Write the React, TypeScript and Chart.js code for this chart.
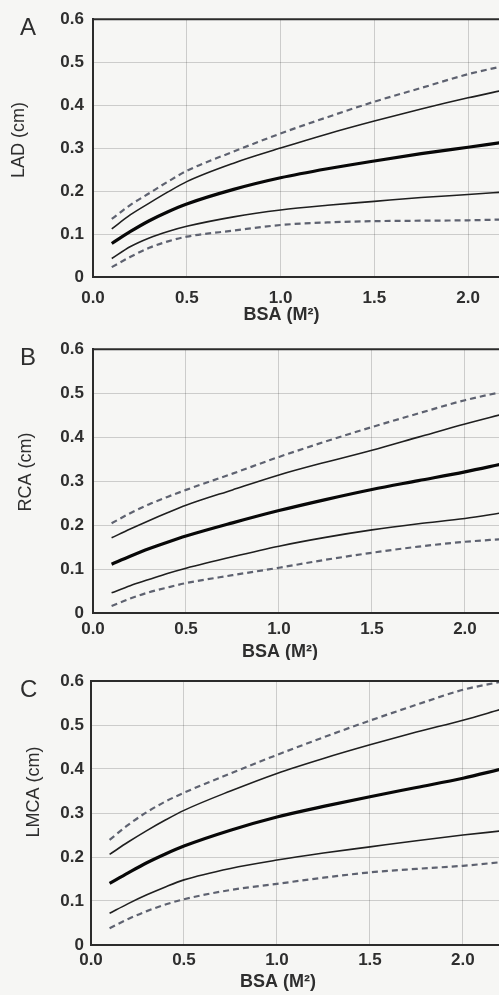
import { useEffect, useRef } from 'react';
import { Chart, registerables } from 'chart.js';

Chart.register(...registerables);

// ---------- data ----------
const bsa = [0.1, 0.2, 0.3, 0.4, 0.5, 0.75, 1.0, 1.25, 1.5, 1.75, 2.0, 2.2];
const xTicks = [0, 0.5, 1.0, 1.5, 2.0];
const yTicks = [0, 0.1, 0.2, 0.3, 0.4, 0.5, 0.6];
const xTitle = 'BSA (M²)';

// Panel A – LAD
const ladUpperDashed = [0.135, 0.168, 0.195, 0.222, 0.247, 0.292, 0.334, 0.372, 0.408, 0.44, 0.472, 0.492];
const ladUpper = [0.112, 0.145, 0.172, 0.198, 0.222, 0.265, 0.3, 0.333, 0.363, 0.391, 0.417, 0.436];
const ladMean = [0.078, 0.106, 0.131, 0.152, 0.17, 0.204, 0.231, 0.252, 0.27, 0.287, 0.302, 0.314];
const ladLower = [0.043, 0.071, 0.091, 0.106, 0.118, 0.14, 0.156, 0.167, 0.176, 0.185, 0.192, 0.198];
const ladLowerDashed = [0.023, 0.047, 0.068, 0.083, 0.094, 0.108, 0.121, 0.127, 0.13, 0.131, 0.132, 0.134];

// Panel B – RCA
const rcaUpperDashed = [0.204, 0.227, 0.247, 0.264, 0.28, 0.317, 0.355, 0.39, 0.423, 0.454, 0.484, 0.503];
const rcaUpper = [0.171, 0.191, 0.21, 0.228, 0.245, 0.28, 0.314, 0.343, 0.37, 0.4, 0.43, 0.452];
const rcaMean = [0.111, 0.129, 0.146, 0.161, 0.175, 0.205, 0.233, 0.258, 0.281, 0.301, 0.321, 0.339];
const rcaLower = [0.046, 0.062, 0.076, 0.09, 0.102, 0.128, 0.152, 0.172, 0.189, 0.203, 0.215, 0.228];
const rcaLowerDashed = [0.016, 0.033, 0.047, 0.058, 0.068, 0.086, 0.103, 0.121, 0.137, 0.151, 0.162, 0.168];

// Panel C – LMCA
const lmcaUpperDashed = [0.239, 0.273, 0.302, 0.326, 0.346, 0.39, 0.432, 0.472, 0.51, 0.546, 0.58, 0.598];
const lmcaUpper = [0.206, 0.234, 0.26, 0.284, 0.306, 0.35, 0.39, 0.424, 0.455, 0.484, 0.511, 0.535];
const lmcaMean = [0.14, 0.164, 0.187, 0.207, 0.225, 0.261, 0.291, 0.315, 0.337, 0.358, 0.379, 0.399];
const lmcaLower = [0.072, 0.094, 0.114, 0.132, 0.148, 0.174, 0.193, 0.209, 0.223, 0.237, 0.25, 0.259];
const lmcaLowerDashed = [0.038, 0.059, 0.077, 0.092, 0.104, 0.125, 0.139, 0.153, 0.165, 0.173, 0.18, 0.188];

// ---------- layout ----------
type PanelCfg = {
  letter: string;
  yTitle: string;
  series: number[][];
  xMax: number;
  top: number;
  height: number;
  plotTop: number;
  plotBottom: number;
  left: number;
  tickPad: number;
  titleOffset: number;
  yTickPad: number;
  yTitleX: number;
  yTitleY: number;
};

const panels: PanelCfg[] = [
  {
    letter: 'A', yTitle: 'LAD (cm)',
    series: [ladUpperDashed, ladUpper, ladMean, ladLower, ladLowerDashed],
    xMax: 2.165, top: 0, height: 330, plotTop: 15, plotBottom: 277, left: 93,
    tickPad: 11, titleOffset: 38, yTickPad: 9, yTitleX: 19, yTitleY: 140,
  },
  {
    letter: 'B', yTitle: 'RCA (cm)',
    series: [rcaUpperDashed, rcaUpper, rcaMean, rcaLower, rcaLowerDashed],
    xMax: 2.183, top: 330, height: 330, plotTop: 19, plotBottom: 283, left: 93,
    tickPad: 6, titleOffset: 39, yTickPad: 9, yTitleX: 26, yTitleY: 142,
  },
  {
    letter: 'C', yTitle: 'LMCA (cm)',
    series: [lmcaUpperDashed, lmcaUpper, lmcaMean, lmcaLower, lmcaLowerDashed],
    xMax: 2.194, top: 660, height: 335, plotTop: 21, plotBottom: 285, left: 91,
    tickPad: 5, titleOffset: 37, yTickPad: 7, yTitleX: 34, yTitleY: 132,
  },
];

const FONT = "'Liberation Sans', Arial, Helvetica, sans-serif";
const TEXT = '#2e2e2e';

const styles = [
  { color: '#5e6270', width: 2.2, dash: [6, 4] },
  { color: '#1f1f1f', width: 1.6, dash: [] as number[] },
  { color: '#080808', width: 3.2, dash: [] as number[] },
  { color: '#1f1f1f', width: 1.6, dash: [] as number[] },
  { color: '#5e6270', width: 2.2, dash: [6, 4] },
];

function PanelChart({ cfg }: { cfg: PanelCfg }) {
  const ref = useRef<HTMLCanvasElement | null>(null);

  useEffect(() => {
    if (!ref.current) return;

    const decor = {
      id: 'decor',
      afterDraw(chart: any) {
        const { ctx, chartArea } = chart;
        const xs = chart.scales.x;
        ctx.save();
        // top border
        ctx.strokeStyle = '#2b2b2b';
        ctx.lineWidth = 2;
        ctx.beginPath();
        ctx.moveTo(chartArea.left - 1, chartArea.top);
        ctx.lineTo(chartArea.right, chartArea.top);
        ctx.stroke();
        // x title
        ctx.fillStyle = TEXT;
        ctx.font = `bold 18px ${FONT}`;
        ctx.textAlign = 'center';
        ctx.textBaseline = 'middle';
        ctx.fillText(xTitle, xs.getPixelForValue(1.0) + 1, chartArea.bottom + cfg.titleOffset);
        // y title
        ctx.save();
        ctx.translate(cfg.yTitleX, cfg.yTitleY);
        ctx.rotate(-Math.PI / 2);
        ctx.font = `18px ${FONT}`;
        ctx.fillText(cfg.yTitle, 0, 0);
        ctx.restore();
        // panel letter
        ctx.font = `24px ${FONT}`;
        ctx.textAlign = 'left';
        ctx.textBaseline = 'alphabetic';
        ctx.fillText(cfg.letter, 20, chartArea.top + 16);
        ctx.restore();
      },
    };

    const chart = new Chart(ref.current, {
      type: 'line',
      data: {
        datasets: cfg.series.map((vals, k) => ({
          data: bsa.map((x, i) => ({ x, y: vals[i] })),
          borderColor: styles[k].color,
          borderWidth: styles[k].width,
          borderDash: styles[k].dash,
          pointRadius: 0,
          fill: false,
          cubicInterpolationMode: 'monotone' as const,
        })),
      },
      options: {
        animation: false,
        responsive: false,
        events: [],
        layout: { padding: { top: cfg.plotTop, right: 0, left: 0, bottom: 0 } },
        plugins: { legend: { display: false }, tooltip: { enabled: false } },
        scales: {
          x: {
            type: 'linear',
            min: 0,
            max: cfg.xMax,
            afterBuildTicks: (s: any) => {
              s.ticks = xTicks.map((v) => ({ value: v }));
            },
            afterFit: (s: any) => {
              s.height = cfg.height - cfg.plotBottom;
            },
            grid: { color: 'rgba(0,0,0,0.17)', lineWidth: 1, drawTicks: false },
            border: { display: true, color: '#2b2b2b', width: 2 },
            ticks: {
              padding: cfg.tickPad,
              color: TEXT,
              font: { family: FONT, size: 17, weight: 'bold' },
              maxRotation: 0,
              autoSkip: false,
              callback: (v: any) => Number(v).toFixed(1),
            },
          },
          y: {
            type: 'linear',
            min: 0,
            max: 0.6,
            afterBuildTicks: (s: any) => {
              s.ticks = yTicks.map((v) => ({ value: v }));
            },
            afterFit: (s: any) => {
              s.width = cfg.left;
            },
            grid: { color: 'rgba(0,0,0,0.17)', lineWidth: 1, drawTicks: false },
            border: { display: true, color: '#2b2b2b', width: 2 },
            ticks: {
              padding: cfg.yTickPad,
              color: TEXT,
              font: { family: FONT, size: 17, weight: 'bold' },
              autoSkip: false,
              callback: (v: any) => (Number(v) === 0 ? '0' : Number(v).toFixed(1)),
            },
          },
        },
      },
      plugins: [decor],
    } as any);

    return () => chart.destroy();
  }, [cfg]);

  return (
    <canvas
      ref={ref}
      width={499}
      height={cfg.height}
      style={{ position: 'absolute', left: 0, top: cfg.top, width: 499, height: cfg.height }}
    />
  );
}

export default function App() {
  return (
    <div
      style={{
        position: 'fixed',
        left: 0,
        top: 0,
        width: 499,
        height: 995,
        background: '#f6f6f4',
        overflow: 'hidden',
      }}
    >
      {panels.map((p) => (
        <PanelChart key={p.letter} cfg={p} />
      ))}
    </div>
  );
}
